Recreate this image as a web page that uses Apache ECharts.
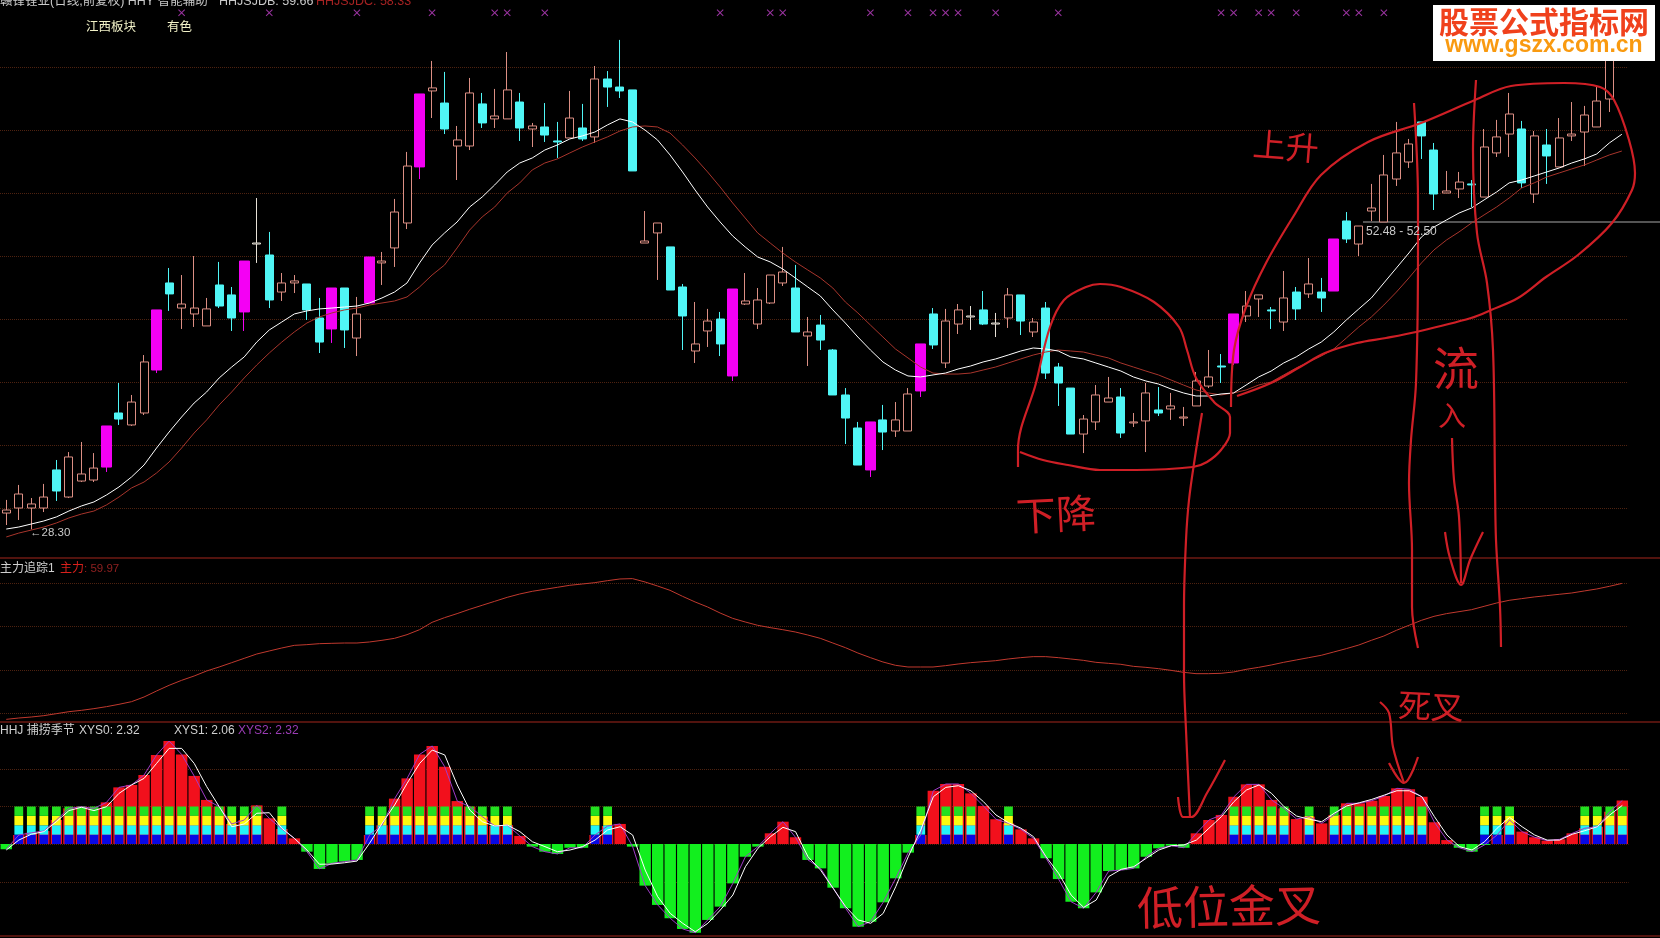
<!DOCTYPE html>
<html>
<head>
<meta charset="utf-8">
<style>html,body{margin:0;padding:0;background:#000;overflow:hidden}#c{width:1660px;height:938px}</style>
<script src="https://cdn.jsdelivr.net/npm/echarts@6/dist/echarts.min.js"></script>
</head>
<body>
<div id="c"></div>
<script>
// ---------- price panel ----------
const candleOpen=[29.60,30.00,30.00,30.00,33.02,30.87,32.14,32.22,33.25,37.54,36.59,37.54,40.95,47.86,45.87,45.40,44.45,47.70,46.91,45.56,50.95,50.08,47.14,47.86,47.78,45.08,44.21,47.46,43.49,46.27,49.45,50.64,52.62,57.07,63.10,62.14,58.73,58.73,62.07,60.88,60.88,62.22,60.08,60.24,59.13,59.37,60.16,59.45,64.05,63.41,63.18,51.03,51.83,50.72,47.54,42.46,44.05,45.00,40.48,46.19,44.60,46.27,47.86,47.46,43.65,44.52,42.54,38.97,36.35,33.02,36.99,36.11,36.11,39.29,45.40,41.51,44.60,45.16,45.72,44.60,45.08,46.91,43.97,45.87,41.19,39.52,35.87,36.83,38.41,38.81,36.75,36.91,37.78,37.86,37.14,38.10,39.68,41.27,41.51,45.24,46.59,45.72,44.76,47.14,46.99,47.14,47.22,52.78,50.95,53.57,52.70,56.11,57.46,60.64,58.41,55.00,55.32,55.72,54.68,58.18,59.68,60.08,54.92,58.81,57.07,59.53,59.84,60.24,62.46];
const candleClose=[29.84,31.11,30.32,30.87,31.35,34.05,32.70,33.17,36.51,37.06,38.41,41.59,45.72,46.99,46.19,45.87,45.80,46.03,45.08,49.60,51.03,46.51,47.86,48.02,45.72,43.17,47.46,44.13,45.40,49.92,49.60,53.49,57.14,62.86,63.34,60.08,59.21,62.94,60.56,61.11,63.18,60.16,60.32,59.60,59.05,60.95,59.29,64.05,63.41,63.10,56.75,51.19,52.62,47.30,45.24,43.02,44.84,43.02,47.38,46.43,46.51,48.49,48.73,43.97,43.97,43.33,38.97,37.14,33.41,36.83,36.03,36.99,39.05,43.02,42.94,44.84,45.72,45.24,44.60,44.68,46.91,44.84,44.76,40.71,39.92,35.87,37.06,38.97,38.73,35.95,36.83,39.13,37.54,38.10,37.22,40.08,40.40,41.19,45.40,46.03,46.91,45.64,46.67,45.80,47.78,46.67,51.35,51.35,52.38,53.81,56.43,58.18,58.89,59.53,54.92,55.16,55.87,55.64,58.65,59.45,61.27,55.80,59.53,57.94,59.37,59.68,61.19,62.30,66.35];
const candleLow=[28.65,29.05,28.30,29.68,30.56,30.79,32.06,32.06,32.86,36.59,36.51,37.38,40.71,45.64,44.21,44.37,44.45,45.87,44.05,44.05,49.45,45.87,46.43,47.06,44.92,42.30,43.10,42.70,42.06,46.27,47.70,49.13,52.14,56.11,60.95,59.68,56.03,58.41,60.16,60.16,60.88,59.13,58.65,59.05,57.78,59.37,59.13,58.97,61.83,62.54,56.75,51.03,48.10,47.30,42.54,41.51,42.78,42.06,40.08,46.11,44.21,46.19,47.62,43.97,41.27,42.54,38.97,35.08,33.41,32.46,34.60,35.64,36.11,38.81,42.62,41.11,43.81,44.13,44.52,43.57,44.29,43.73,43.57,40.24,38.10,35.87,34.36,36.19,38.41,35.56,36.43,34.44,37.30,36.99,36.51,38.10,39.52,39.92,41.35,44.76,45.16,44.21,44.05,44.92,46.67,45.56,47.22,51.03,50.00,52.78,52.70,55.56,56.99,57.70,53.65,55.00,54.60,53.89,54.68,57.86,57.86,55.40,54.21,55.72,57.07,59.13,57.14,60.24,61.43];
const candleHigh=[30.64,31.83,30.79,31.91,33.81,34.44,35.24,34.36,36.51,39.92,38.97,42.14,45.72,49.05,48.49,50.00,46.67,49.53,47.54,49.60,54.60,51.91,48.65,48.49,47.78,46.67,47.46,47.46,46.75,49.92,50.32,54.53,58.26,62.86,65.48,64.61,60.32,64.13,62.94,63.26,66.19,62.94,60.56,62.14,60.64,63.10,62.07,65.08,64.68,67.15,63.18,53.57,52.62,50.72,47.78,46.35,45.80,45.56,47.38,48.65,47.46,48.49,50.72,49.29,45.16,45.32,42.62,39.52,36.83,36.83,38.18,38.41,39.52,43.02,45.87,45.80,46.19,46.03,47.22,45.48,47.46,46.91,45.08,46.35,41.51,39.52,37.38,39.76,40.40,39.52,37.54,39.92,39.60,39.13,38.02,40.79,42.54,42.22,45.40,47.22,46.91,45.95,48.81,47.54,49.84,48.26,51.35,53.49,52.38,55.72,58.02,60.64,59.29,60.64,58.97,56.75,56.67,56.03,60.08,60.80,62.94,60.72,59.92,60.08,60.95,62.22,61.91,63.57,66.80];
const limitUpIdx=[8,12,19,26,29,33,58,69,73,98,106];
const whiteCrossIdx=[20,77,79];
const signalIdx=[14,21,28,34,39,40,43,57,61,62,69,72,74,75,76,79,84,97,98,100,101,103,107,108,110];
const hhjsjdb=[28.33,28.49,28.73,28.97,29.29,29.76,30.16,30.48,31.03,31.67,32.46,33.41,34.76,36.03,37.22,38.33,39.21,40.32,41.19,41.99,43.17,44.13,44.76,45.40,45.64,45.80,45.87,45.95,46.03,46.27,46.67,47.14,47.86,49.45,50.87,51.83,52.70,53.89,54.68,55.64,56.67,57.38,57.78,58.41,58.81,59.29,59.53,59.84,60.40,60.88,60.64,60.00,59.21,58.02,56.67,55.24,53.89,52.70,51.59,50.72,49.92,49.53,48.97,48.26,47.54,46.83,45.72,44.68,43.57,42.54,41.59,40.95,40.48,40.40,40.56,40.71,41.03,41.27,41.59,41.83,42.14,42.46,42.70,42.62,42.46,41.99,41.83,41.51,41.19,40.87,40.40,40.08,39.84,39.45,39.13,38.89,38.89,39.05,39.13,39.76,40.40,40.87,41.51,41.99,42.62,43.17,43.97,44.92,45.80,46.67,47.86,49.05,50.24,51.51,52.30,52.86,53.41,53.81,54.45,55.08,55.80,56.03,56.35,56.67,56.99,57.38,57.70,58.10,58.97,59.66];
const hhjsjdc=[27.70,28.01,28.25,28.49,28.81,29.21,29.52,29.76,30.24,30.87,31.59,32.06,32.78,33.65,34.76,35.95,36.99,38.18,39.21,40.32,41.35,42.30,43.17,43.97,44.68,45.16,45.48,45.72,45.87,46.11,46.27,46.43,46.75,47.54,48.49,49.29,50.64,52.06,53.10,53.89,55.00,55.80,56.83,57.38,57.70,58.18,58.65,59.05,59.45,59.92,60.24,60.32,60.24,59.76,58.81,57.78,56.67,55.48,54.21,53.02,51.83,51.03,50.24,49.53,48.89,48.26,47.46,46.35,45.48,44.52,43.57,42.62,41.91,41.19,40.71,40.63,40.63,40.71,40.95,41.19,41.51,41.83,42.14,42.38,42.54,42.46,42.38,42.14,41.91,41.51,41.19,40.87,40.56,40.16,39.76,39.37,39.13,38.97,39.13,39.37,39.76,40.00,40.56,41.11,41.59,42.06,42.62,43.49,44.37,45.16,46.11,47.14,48.26,49.45,50.48,51.27,51.91,52.62,53.26,53.89,54.60,55.40,55.80,56.27,56.59,56.91,57.22,57.62,58.02,58.33];
// ---------- 主力追踪 panel ----------
const zhuli=[28.58,28.89,29.12,29.43,29.89,30.35,30.66,31.05,31.51,32.05,32.66,33.74,35.13,36.44,37.59,38.59,39.75,40.67,41.67,42.67,43.67,44.37,45.06,45.67,45.83,46.06,46.14,46.21,46.21,46.45,46.83,47.29,48.14,49.29,50.99,52.07,53.00,54.00,54.92,55.84,56.76,57.53,58.15,58.61,59.07,59.54,59.84,60.15,60.61,61.00,61.08,60.31,59.38,58.38,56.99,55.69,54.53,53.14,51.91,51.07,50.30,49.76,49.29,48.76,48.06,47.29,46.21,45.14,43.90,42.83,41.83,41.06,40.67,40.67,40.67,40.98,41.36,41.67,41.90,42.13,42.52,42.83,43.06,43.06,42.83,42.52,42.21,41.75,41.52,41.29,40.82,40.59,40.29,39.90,39.44,39.13,39.13,39.21,39.52,40.13,40.59,41.13,41.75,42.29,42.83,43.37,44.14,44.91,45.75,46.83,47.83,49.14,50.30,51.45,52.37,53.00,53.45,53.91,54.68,55.45,56.07,56.46,56.84,57.15,57.46,57.76,58.23,58.69,59.30,59.97];
// ---------- HHJ 捕捞季节 panel ----------
const xys0=[-0.28,0.48,0.6,0.69,1.28,1.9,1.99,1.9,2.22,3.02,3.15,3.68,4.75,5.49,4.78,3.63,2.35,1.99,1.07,1.28,2.06,1.37,0.8,0.3,-0.41,-1.33,-1.03,-0.94,-0.85,0.48,1,2.42,3.5,4.78,5.23,4.12,2.29,1.99,1.46,0.96,1.01,0.43,-0.14,-0.41,-0.53,-0.2,-0.2,0.48,0.96,1.07,-0.14,-2.22,-3.25,-3.96,-4.53,-4.73,-4.05,-3.34,-2.1,-0.68,-0.14,0.57,1.19,0.36,-0.85,-1.3,-2.33,-3.43,-4.41,-4.14,-3.11,-1.83,-0.46,0.48,2.84,3.2,3.2,2.7,2.03,1.32,1.1,0.78,0.3,-0.76,-1.87,-3.08,-3.43,-2.58,-1.44,-1.39,-1.3,-0.68,-0.23,-0.09,-0.2,0.57,1.28,1.55,2.52,3.18,3.18,2.35,1.9,1.33,1.46,1.1,1.55,2.17,2.17,2.31,2.56,2.97,2.92,2.52,1.16,0.21,-0.2,-0.41,-0.05,0.48,1.28,0.66,0.36,0.18,0.25,0.57,0.84,0.92,1.72,2.32];
const xys1=[-0.32,0.21,0.52,0.66,1.19,1.78,1.96,1.78,1.99,2.7,3.15,3.5,4.3,5.1,5.1,4.3,3.06,1.99,0.92,1.07,1.64,1.67,0.84,0.3,-0.32,-1.08,-1.07,-1,-0.91,0.04,1.1,2.08,3.24,4.3,5.01,4.75,3.15,1.81,1.19,0.96,1.01,0.66,0.12,-0.14,-0.41,-0.32,-0.14,0.21,0.75,0.92,0.48,-1.39,-2.81,-3.7,-4.23,-4.68,-4.23,-3.52,-2.72,-1.21,-0.23,0.39,0.89,0.66,-0.68,-1.39,-2.36,-3.34,-4.05,-4.23,-3.7,-2.28,-0.68,0.75,2.52,3.02,3.11,2.84,2.26,1.55,1.14,0.84,0.39,-0.68,-1.56,-2.72,-3.38,-2.99,-1.74,-1.35,-1.21,-0.76,-0.32,-0.09,-0.05,0.21,0.84,1.46,2.26,2.88,3.15,2.7,1.99,1.49,1.32,1.19,1.64,2.03,2.2,2.38,2.61,2.84,2.84,2.52,1.46,0.48,-0.14,-0.32,0.12,0.84,1.42,0.92,0.48,0.21,0.21,0.52,0.71,0.92,1.55,2.06];
const colorBlockIdx=[1,2,3,4,5,6,7,8,9,10,11,12,13,14,15,16,17,18,19,20,22,29,30,31,32,33,34,35,36,37,38,39,40,47,48,73,75,76,77,80,98,99,100,101,102,104,106,107,108,109,110,111,112,113,118,119,120,126,127,128,129];
// ---------- hand-drawn annotations, in picture units ----------
const strokeRise=[[1231,407],[1234,350],[1246,307],[1266,263],[1293,217],[1321,175],[1368,142],[1421,123],[1475,100],[1511,86],[1564,83],[1600,87],[1614,100],[1629,140],[1635,173],[1632,190],[1612,223],[1578,255],[1546,277],[1518,298],[1491,310],[1471,318],[1416,332],[1386,338],[1357,343],[1325,353],[1300,367],[1271,383],[1237,396]];
const strokeFall=[[1018,467],[1018,450],[1036,383],[1050,327],[1064,300],[1086,287],[1100,284],[1121,287],[1154,302],[1179,327],[1187,350],[1196,378],[1214,402],[1230,417],[1230,433],[1221,450],[1207,462],[1193,467],[1136,470],[1100,470],[1068,465],[1043,460],[1020,452]];
const strokeArrowLow=[[1202,413],[1195,457],[1189,500],[1186,540],[1184,607],[1184,673],[1186,730],[1190,817]];
const strokeArrowLowHead=[[1178,797],[1183,817],[1191,817],[1207,793],[1225,760]];
const strokeBandLeft=[[1414,103],[1418,200],[1418,250],[1416,383],[1411,440],[1409,483],[1412,550],[1412,607],[1418,648]];
const strokeBandRight=[[1476,80],[1473,150],[1477,233],[1487,283],[1493,350],[1495,483],[1496,540],[1500,607],[1501,647]];
const strokeInflow=[[1452,438],[1454,480],[1459,517],[1461,583]];
const strokeInflowHead=[[1445,532],[1450,558],[1461,585],[1470,560],[1483,532]];
const strokeArrowCross=[[1380,702],[1389,713],[1393,747],[1404,783]];
const strokeArrowCrossHead=[[1389,763],[1404,783],[1418,757]];
const handStrokes=[strokeRise,strokeFall,strokeArrowLow,strokeArrowLowHead,strokeBandLeft,strokeBandRight,strokeInflow,strokeInflowHead,strokeArrowCross,strokeArrowCrossHead];
const panelRules=[[[-10,558],[1670,558]],[[-10,722],[1670,722]],[[-10,936],[1670,936]]];
const crosshair=[[1363,222],[1670,222]];

const N=130;
[hhjsjdb,hhjsjdc,zhuli,xys0,xys1].forEach((a,k)=>{if(a.length!==N)throw new Error('len '+k+' '+a.length)});
[candleOpen,candleClose,candleLow,candleHigh].forEach((a,k)=>{if(a.length!==N-1)throw new Error('clen '+k+' '+a.length)});
const cats=Array.from({length:N},(_,i)=>i);
const blank=['-','-','-','-'];
const row=i=>[candleOpen[i],candleClose[i],candleLow[i],candleHigh[i]];
const isLimit=i=>limitUpIdx.includes(i);
const normalData=cats.map(i=>{
  if(i>=N-1||isLimit(i))return blank;
  if(whiteCrossIdx.includes(i))return {value:row(i),itemStyle:{borderColor:'#e6e0d6',borderColor0:'#e6e0d6'}};
  return row(i);
});
const limitData=cats.map(i=>(i<N-1&&isLimit(i))?row(i):blank);
const block=cats.map(i=>colorBlockIdx.includes(i)?0.5:'-');

const DOT='#4e2210', HAND='#cf1f26';
const hidX=(grid)=>({type:'category',gridIndex:grid,data:cats,show:false,boundaryGap:true});
const gridBox=(left,top,h)=>({left:left,top:top,width:1629,height:h,containLabel:false});
const dotted={show:true,showMinLine:false,showMaxLine:false,lineStyle:{type:'dotted',color:DOT,width:1}};
const noAxis={axisLine:{show:false},axisTick:{show:false},axisLabel:{show:false}};

const option={
  backgroundColor:'#000',animation:false,
  grid:[gridBox(-0.9,4,567),gridBox(-0.9,540,216.5),gridBox(-0.4,731.5,206.25),gridBox(-0.4,731.5,206.25),
        gridBox(-0.4,769,113),{left:0,top:0,width:1660,height:938}],
  xAxis:[hidX(0),hidX(1),hidX(2),hidX(3),hidX(4),{type:'value',gridIndex:5,min:0,max:1660,show:false}],
  yAxis:[
    {type:'value',gridIndex:0,min:25,max:70,interval:5,splitLine:dotted,...noAxis},
    {type:'value',gridIndex:1,min:20,max:70,interval:10,splitLine:dotted,...noAxis},
    {type:'value',gridIndex:2,min:-5,max:6,splitLine:{show:false},...noAxis},
    {type:'value',gridIndex:3,min:-5,max:6,splitLine:{show:false},...noAxis},
    {type:'value',gridIndex:4,min:-2,max:4,interval:2,splitLine:{show:true,lineStyle:{type:'dotted',color:DOT,width:1}},...noAxis},
    {type:'value',gridIndex:5,min:0,max:938,inverse:true,show:false}
  ],
  series:[
    {type:'candlestick',name:'K',xAxisIndex:0,yAxisIndex:0,data:normalData,barWidth:8.5,z:3,
      itemStyle:{color:'#000',color0:'#50f6f6',borderColor:'#dc8f84',borderColor0:'#50f6f6',borderWidth:1}},
    {type:'candlestick',name:'K2',xAxisIndex:0,yAxisIndex:0,data:limitData,barWidth:10.5,z:3,
      itemStyle:{color:'#f400f4',color0:'#f400f4',borderColor:'#f400f4',borderColor0:'#f400f4',borderWidth:1}},
    {type:'line',name:'HHJSJDC',xAxisIndex:0,yAxisIndex:0,data:hhjsjdc,showSymbol:false,z:4,lineStyle:{color:'#a8352c',width:1}},
    {type:'line',name:'HHJSJDB',xAxisIndex:0,yAxisIndex:0,data:hhjsjdb,showSymbol:false,z:4,lineStyle:{color:'#ffffff',width:1}},
    {type:'scatter',name:'signal',xAxisIndex:0,yAxisIndex:0,data:signalIdx.map(i=>[i,69.3]),z:4,
      symbol:'path://M1,0L5,4L9,0L10,1L6,5L10,9L9,10L5,6L1,10L0,9L4,5L0,1Z',symbolSize:7,itemStyle:{color:'#c040c8'}},
    {type:'line',name:'主力',xAxisIndex:1,yAxisIndex:1,data:zhuli,showSymbol:false,z:3,lineStyle:{color:'#c0392e',width:1}},
    {type:'bar',name:'XYS0',xAxisIndex:2,yAxisIndex:2,data:xys0,barWidth:11.4,z:2,
      itemStyle:{color:p=>p.value>=0?'#f2101c':'#12ef1e'}},
    {type:'bar',name:'blue',stack:'b',xAxisIndex:3,yAxisIndex:3,data:block,barWidth:8.8,z:3,itemStyle:{color:'#0808e4'}},
    {type:'bar',name:'cyan',stack:'b',xAxisIndex:3,yAxisIndex:3,data:block,barWidth:8.8,z:3,itemStyle:{color:'#22f4f8'}},
    {type:'bar',name:'yellow',stack:'b',xAxisIndex:3,yAxisIndex:3,data:block,barWidth:8.8,z:3,itemStyle:{color:'#fbfb10'}},
    {type:'bar',name:'green',stack:'b',xAxisIndex:3,yAxisIndex:3,data:block,barWidth:8.8,z:3,itemStyle:{color:'#22e020'}},
    {type:'line',name:'XYS2',xAxisIndex:2,yAxisIndex:2,data:xys0,showSymbol:false,z:4,lineStyle:{color:'#a03cc8',width:1}},
    {type:'line',name:'XYS1',xAxisIndex:2,yAxisIndex:2,data:xys1,showSymbol:false,z:5,lineStyle:{color:'#ffffff',width:1}},
    ...panelRules.map(d=>({type:'line',xAxisIndex:5,yAxisIndex:5,data:d,showSymbol:false,z:2,lineStyle:{color:'#a3271c',width:1.2}})),
    {type:'line',xAxisIndex:5,yAxisIndex:5,data:crosshair,showSymbol:false,z:3,lineStyle:{color:'#a8a8a8',width:1}},
    ...handStrokes.map(d=>({type:'line',xAxisIndex:5,yAxisIndex:5,data:d,smooth:0.35,showSymbol:false,z:6,lineStyle:{color:HAND,width:2.2}}))
  ],
  graphic:{elements:[
    ...[
      ['赣锋锂业(日线,前复权) HHY 智能辅助',0,2,'12.5px','#c9c9c9'],
      ['HHJSJDB: 59.66',219,2,'12.5px','#c9c9c9'],
      ['HHJSJDC: 58.33',316,2,'12.5px','#a52222'],
      ['江西板块',86,28,'12.5px','#f2f2c8'],
      ['有色',167,28,'12.5px','#f2f2c8'],
      ['←28.30',30,533,'11.5px','#c9c9c9'],
      ['52.48 - 52.50',1366,232,'12px','#c9c9c9'],
      ['主力追踪1',0,569,'12px','#d0d0d0'],
      ['主力',60,569,'12px','#d8201c'],
      [': 59.97',84,569,'11.5px','#8f2020'],
      ['HHJ 捕捞季节',0,731,'12px','#d0d0d0'],
      ['XYS0: 2.32',79,731,'12px','#d0d0d0'],
      ['XYS1: 2.06',174,731,'12px','#d0d0d0'],
      ['XYS2: 2.32',238,731,'12px','#9a3cb4']
    ].map(t=>({type:'text',z:20,style:{text:t[0],x:t[1],y:t[2],fill:t[4],font:t[3]+' "Liberation Sans","Noto Sans CJK SC"',textVerticalAlign:'middle'}})),
    ...[
      ['上升',1286,146,33,-0.08],
      ['下降',1056,514,40,0.05],
      ['流',1456,368,46,0],
      ['入',1452,415,28,0],
      ['低位金叉',1229,906,46,0.02],
      ['死叉',1431,706,33,-0.05]
    ].map(t=>({type:'text',z:20,x:t[1],y:t[2],rotation:t[4],style:{text:t[0],x:0,y:0,fill:HAND,font:t[3]+'px "Noto Sans CJK SC"',textAlign:'center',textVerticalAlign:'middle'}})),
    {type:'rect',z:100,shape:{x:1433,y:5,width:222,height:56},style:{fill:'#fff'}},
    {type:'text',z:101,style:{text:'股票公式指标网',x:1544,y:22,fill:'#f0411c',font:'bold 30px "Noto Sans CJK SC"',textAlign:'center',textVerticalAlign:'middle'}},
    {type:'text',z:101,style:{text:'www.gszx.com.cn',x:1544,y:46,fill:'#f99a10',font:'bold 23px "Liberation Sans"',textAlign:'center',textVerticalAlign:'middle'}}
  ]}
};
const chart=echarts.init(document.getElementById('c'),null,{renderer:'canvas',width:1660,height:938});
chart.setOption(option);
</script>
</body>
</html>
